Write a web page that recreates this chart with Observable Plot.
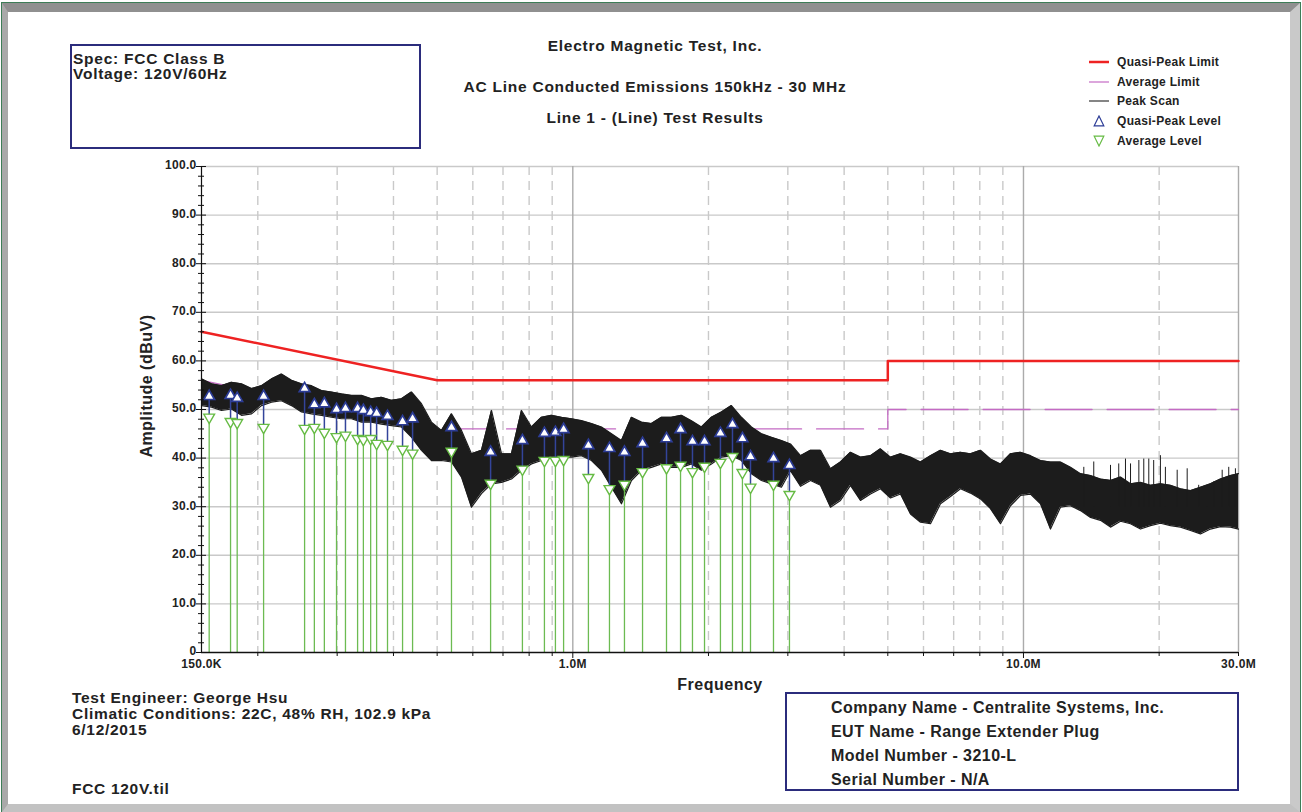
<!DOCTYPE html>
<html>
<head>
<meta charset="utf-8">
<script src="https://cdn.jsdelivr.net/npm/d3@7"></script>
<script src="https://cdn.jsdelivr.net/npm/@observablehq/plot@0.6"></script>
<style>
  html, body { margin: 0; padding: 0; background: #ffffff; }
  body { width: 1302px; height: 812px; position: relative; overflow: hidden;
         font-family: "Liberation Sans", Arial, Helvetica, sans-serif; font-weight: bold; color: #222; }
  #frame { position: absolute; left: 2px; top: 3px; width: 1282px; height: 792px;
           border-top: 9px solid #909090; border-left: 6px solid #a9a9a9;
           border-right: 10px solid #c9c9c9; border-bottom: 8px solid #c2c2c2;
           outline: 1px solid #3d7d57; }
  .abs { position: absolute; white-space: nowrap; }
  .title { left: 355px; width: 600px; text-align: center; font-size: 15.5px; letter-spacing: 0.75px; line-height: 16px; }
  .box { position: absolute; border: 2px solid #2b2c7c; box-sizing: border-box; }
  #chart { position: absolute; left: 0; top: 0; }
  .leg { position: absolute; left: 1088px; font-size: 12px; letter-spacing: 0.3px; line-height: 14px; }
  .leg div { height: 19.7px; display: flex; align-items: center; }
  .leg svg { width: 22px; height: 12px; margin-right: 7px; }
</style>
</head>
<body>
<div id="frame"></div>
<div id="chart"></div>

<div class="abs title" style="top:38px">Electro Magnetic Test, Inc.</div>
<div class="abs title" style="top:79px">AC Line Conducted Emissions 150kHz - 30 MHz</div>
<div class="abs title" style="top:110px">Line 1 - (Line) Test Results</div>

<div class="box" style="left:70px; top:44px; width:351px; height:105px; padding:5px 0 0 1px; font-size:15.5px; letter-spacing:0.75px; line-height:15px;">
  <div>Spec: FCC Class B</div>
  <div>Voltage: 120V/60Hz</div>
</div>

<div class="leg" style="top:52px">
  <div><svg viewBox="0 0 22 12"><line x1="1" y1="6" x2="21" y2="6" stroke="#ee2222" stroke-width="2.5"/></svg>Quasi-Peak Limit</div>
  <div><svg viewBox="0 0 22 12"><line x1="1" y1="6" x2="21" y2="6" stroke="#c46bc4" stroke-width="1.2"/></svg>Average Limit</div>
  <div><svg viewBox="0 0 22 12"><line x1="1" y1="6" x2="21" y2="6" stroke="#333" stroke-width="1.2"/></svg>Peak Scan</div>
  <div><svg viewBox="0 0 22 12"><path d="M11,1 L15.8,10.8 L6.2,10.8 Z" fill="#fff" stroke="#2c3c96" stroke-width="1.2"/></svg>Quasi-Peak Level</div>
  <div><svg viewBox="0 0 22 12"><path d="M11,11 L15.8,1.2 L6.2,1.2 Z" fill="#fff" stroke="#66bb44" stroke-width="1.2"/></svg>Average Level</div>
</div>

<div class="abs" style="left:147px; top:386px; font-size:16px; letter-spacing:0.5px; transform: translate(-50%,-50%) rotate(-90deg);">Amplitude (dBuV)</div>
<div class="abs" style="left:720px; top:685px; font-size:16px; letter-spacing:0.5px; transform: translate(-50%,-50%);">Frequency</div>

<div class="abs" style="left:72px; top:690px; font-size:15.5px; letter-spacing:0.7px; line-height:16px;">
  <div>Test Engineer: George Hsu</div>
  <div>Climatic Conditions: 22C, 48% RH, 102.9 kPa</div>
  <div>6/12/2015</div>
</div>
<div class="abs" style="left:72px; top:781px; font-size:15.5px; letter-spacing:0.7px; line-height:16px;">FCC 120V.til</div>

<div class="box" style="left:785px; top:692px; width:454px; height:99px; padding:2px 0 0 44px; font-size:16px; letter-spacing:0.45px; line-height:24px;">
  <div>Company Name - Centralite Systems, Inc.</div>
  <div>EUT Name - Range Extender Plug</div>
  <div>Model Number - 3210-L</div>
  <div>Serial Number - N/A</div>
</div>

<script>
// ---------- DATA (frequency in MHz, amplitude in dBuV) ----------
const xTickValues = [0.15, 1, 10, 30];
const xTickLabels = ["150.0K", "1.0M", "10.0M", "30.0M"];
const xMinorGrid = [0.2, 0.3, 0.4, 0.5, 0.6, 0.7, 0.8, 0.9, 2, 3, 4, 5, 6, 7, 8, 9, 20];
const xMajorGrid = [1, 10];
const yTickValues = [0, 10, 20, 30, 40, 50, 60, 70, 80, 90, 100];
const yTickLabels = ["0", "10.0", "20.0", "30.0", "40.0", "50.0", "60.0", "70.0", "80.0", "90.0", "100.0"];
const yMinorTicks = [2,4,6,8,12,14,16,18,22,24,26,28,32,34,36,38,42,44,46,48,52,54,56,58,62,64,66,68,72,74,76,78,82,84,86,88,92,94,96,98];

// Limits
const qpLimitFreq = [0.15, 0.5, 5, 5, 30];
const qpLimitVal  = [66, 56, 56, 60, 60];
const avLimitFreq = [0.15, 0.5, 5, 5, 30];
const avLimitVal  = [56, 46, 46, 50, 50];

// Peak scan: upper / lower envelope of the noisy trace
const scanFreq = [
  0.1500,0.1579,0.1661,0.1748,0.1840,0.1937,0.2038,0.2145,0.2257,0.2376,0.2500,0.2631,0.2769,0.2914,0.3067,0.3228,0.3397,0.3575,0.3762,0.3959,0.4167,0.4385,0.4615,0.4857,
  0.5112,0.5380,0.5662,0.5959,0.6271,0.6600,0.6946,0.7310,0.7693,0.8096,0.8520,0.8967,0.9437,0.9932,1.0452,1.1000,1.1577,1.2184,1.2822,1.3494,1.4201,1.4946,1.5729,1.6553,1.7421,1.8334,1.9295,2.0306,2.1370,2.2490,2.3669,2.4910,2.6215,2.7589,2.9035,
  3.041,3.2004,3.3682,3.5447,3.7305,3.9261,4.1319,4.3485,4.5764,4.8163,5.0688,5.3345,5.6141,5.9084,6.2181,6.5441,6.8871,7.2481,7.6280,8.0279,8.4487,8.8916,9.3577,9.8482,10.364,10.908,11.480,12.081,12.715,13.381,14.083,14.821,15.598,16.415,17.276,18.181,19.134,20.137,21.193,22.304,23.473,24.703,25.998,27.361,28.795,30.0];
const scanHigh = [
  56.3,55.3,54.9,55.6,55.3,54.3,54.9,56.3,57.3,56.0,55.3,54.9,53.9,53.6,53.2,52.9,52.9,52.2,52.5,51.9,52.2,53.6,51.2,47.4,
  45.7,49.1,45.7,40.9,41.6,49.8,40.9,40.9,49.8,46.4,48.4,48.8,48.4,48.1,47.7,47.1,46.4,45.0,43.6,48.4,47.4,47.1,48.4,48.4,48.8,47.7,46.4,48.4,49.5,50.8,48.4,46.4,45.0,44.3,43.6,
  42.9,40.5,41.6,41.6,37.8,39.2,41.2,40.2,40.5,41.9,40.2,40.9,40.2,39.2,40.5,41.6,40.9,41.2,40.9,41.6,39.8,38.8,40.9,41.2,40.5,39.5,39.2,39.2,38.1,36.8,36.4,35.7,35.4,36.1,34.7,35.0,34.4,34.7,34.4,33.7,33.3,34.0,34.7,35.7,36.4,36.8];
const scanLow = [
  50.8,50.5,49.8,50.1,48.8,49.1,50.8,51.5,51.8,50.8,49.5,49.1,48.8,48.4,48.1,48.1,47.4,47.4,47.0,46.7,46.4,44.3,41.6,39.5,
  39.5,39.2,36.1,29.9,32.7,34.7,35.0,35.7,37.5,38.8,39.5,40.2,40.2,40.2,40.5,39.5,37.5,34.0,30.6,35.4,37.5,38.1,38.8,38.1,38.1,38.8,37.5,38.8,40.2,40.5,39.5,36.8,35.4,34.7,34.0,
  37.4,34.2,35.4,34.4,29.9,31.3,34.4,31.3,32.6,33.7,31.8,32.6,28.5,26.8,26.5,30.6,32.1,33.7,32.8,31.6,29.6,26.5,30.2,32.3,32.6,30.6,25.4,29.9,30.2,29.2,27.8,27.2,25.8,27.0,26.5,25.4,26.1,26.6,26.1,25.8,25.1,24.4,25.4,25.9,25.8,25.4];

// Sparse spikes rising above the dense band at the high-frequency end
const spikeFreq = [13.61,14.32,15.60,16.27,16.84,17.28,18.03,18.49,18.97,19.45,20.13,20.65,21.93,23.08,24.48,25.56,26.44,27.60,28.54,29.53];
const spikeTop  = [38.1,39.2,38.5,38.8,39.8,38.8,39.5,39.8,39.8,39.5,40.5,38.1,37.5,37.8,34.4,34.0,35.1,37.5,38.1,37.8];
const spikeBase = 30;

// Measured levels
const measFreq = [0.156,0.174,0.180,0.206,0.254,0.267,0.281,0.299,0.313,0.333,0.343,0.356,0.367,0.388,0.419,0.441,0.538,0.657,0.773,0.865,0.915,0.954,1.083,1.206,1.302,1.428,1.614,1.734,1.843,1.960,2.126,2.261,2.379,2.479,2.788,3.025];
const qpLevel  = [52.7,52.9,52.3,52.7,54.3,51.0,51.2,50.0,50.2,50.2,49.8,49.4,49.2,48.6,47.5,48.1,46.3,41.2,43.6,45.1,45.3,45.9,42.6,42.0,41.2,43.0,44.0,45.9,43.4,43.4,45.1,46.9,44.0,40.3,39.9,38.5];
const avLevel  = [48.4,47.5,47.3,46.3,46.1,46.3,45.3,44.4,44.7,44.0,43.8,44.0,43.0,42.8,41.8,41.0,41.4,34.8,37.7,39.5,39.5,39.7,36.0,33.7,34.6,37.2,38.0,38.5,37.2,38.3,39.1,40.3,37.0,34.0,34.6,32.5];

// ---------- build tables ----------
const qpLimit = qpLimitFreq.map((f, i) => ({f, v: qpLimitVal[i]}));
const avLimit = avLimitFreq.map((f, i) => ({f, v: avLimitVal[i]}));
const scan = scanFreq.map((f, i) => ({f, hi: scanHigh[i], lo: scanLow[i]}));
const spikes = spikeFreq.map((f, i) => ({f, top: spikeTop[i], base: spikeBase}));
const meas = measFreq.map((f, i) => ({f, qp: qpLevel[i], av: avLevel[i]}));
const lookup = (vals, labels) => d => { const k = vals.findIndex(v => Math.abs(v - d) < 1e-9); return k < 0 ? "" : labels[k]; };

const grid = "#c9c9c9";
const ink = "#1c1c1c";

const chart = Plot.plot({
  width: 1302,
  height: 812,
  marginLeft: 201,
  marginRight: 64,
  marginTop: 166,
  marginBottom: 160,
  x: {type: "log", domain: [0.15, 30]},
  y: {domain: [0, 100]},
  style: {background: "transparent", fontFamily: "'Liberation Sans', Arial, sans-serif", fontWeight: "bold", fontSize: "12px", letterSpacing: "0.3px", color: "#222", overflow: "visible"},
  marks: [
    // grid
    Plot.ruleY(yTickValues.filter(d => d > 0), {y: d => d, stroke: grid, strokeWidth: 1.4}),
    Plot.ruleX(xMinorGrid, {x: d => d, stroke: grid, strokeWidth: 1.4, strokeDasharray: "9,6"}),
    Plot.ruleX(xMajorGrid, {x: d => d, stroke: "#ababab", strokeWidth: 1.4}),
    Plot.ruleX([30], {x: d => d, stroke: "#ababab", strokeWidth: 1.4}),
    // limits
    Plot.line(qpLimit, {x: "f", y: "v", stroke: "#ee2222", strokeWidth: 2.5}),
    Plot.line(avLimit, {x: "f", y: "v", stroke: "#c46bc4", strokeWidth: 1.3, strokeDasharray: "47,15"}),
    // peak scan
    Plot.areaY(scan, {x: "f", y1: "lo", y2: "hi", fill: ink, curve: "linear"}),
    Plot.line(scan, {x: "f", y: "hi", stroke: ink, strokeWidth: 1.2}),
    Plot.line(scan, {x: "f", y: "lo", stroke: ink, strokeWidth: 1.2}),
    Plot.ruleX(spikes, {x: "f", y1: "base", y2: "top", stroke: ink, strokeWidth: 1}),
    // stems
    Plot.ruleX(meas, {x: "f", y1: "av", y2: "qp", stroke: "#33449a", strokeWidth: 1.5}),
    Plot.ruleX(meas, {x: "f", y1: 0, y2: "av", stroke: "#6cbb52", strokeWidth: 1.3}),
    // markers
    Plot.dot(meas, {x: "f", y: "qp", symbol: "triangle", r: 4, fill: "white", stroke: "#2c3c96", strokeWidth: 1.7}),
    Plot.dot(meas, {x: "f", y: "av", symbol: "triangle", rotate: 180, r: 4, fill: "white", stroke: "#66bb44", strokeWidth: 1.4}),
    // axes lines
    Plot.ruleX([0.15], {x: d => d, stroke: "#111", strokeWidth: 1.2}),
    Plot.ruleY([0], {y: d => d, stroke: "#111", strokeWidth: 1.5}),
    // y axis ticks (crossing axis)
    Plot.axisY({ticks: yTickValues, tickSize: 10, dx: 5, tickFormat: () => "", stroke: "#111", label: null}),
    Plot.axisY({ticks: yMinorTicks, tickSize: 6, dx: 3, tickFormat: () => "", stroke: "#111", label: null}),
    Plot.axisY({ticks: yTickValues, tickSize: 0, tickPadding: 5, dy: -1, tickFormat: lookup(yTickValues, yTickLabels), fill: "#222", label: null}),
    // x axis ticks
    Plot.axisX({ticks: xMinorGrid.concat([30]), tickSize: 4, tickFormat: () => "", stroke: "#111", label: null}),
    Plot.axisX({ticks: xMajorGrid, tickSize: 6, tickFormat: () => "", stroke: "#111", label: null}),
    Plot.text(xTickValues, {x: d => d, y: 0, text: lookup(xTickValues, xTickLabels), dy: 12, fill: "#222", fontWeight: "bold", fontSize: 12})
  ]
});
document.getElementById("chart").appendChild(chart);
</script>
</body>
</html>
